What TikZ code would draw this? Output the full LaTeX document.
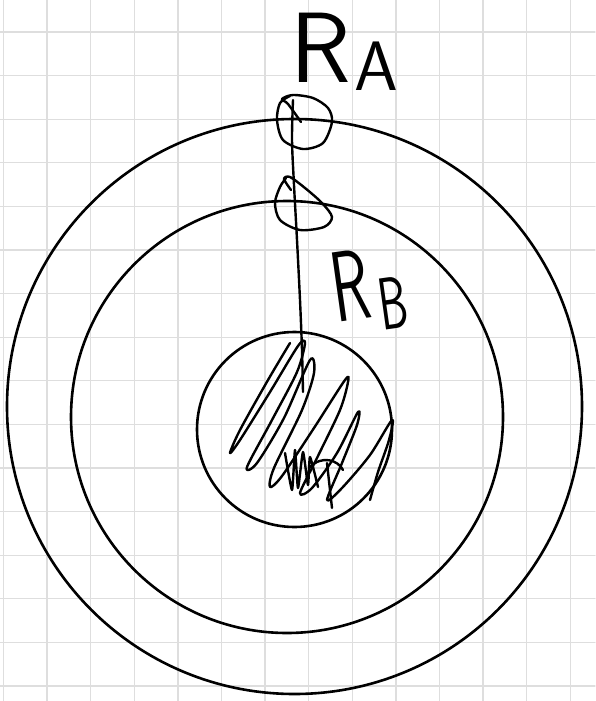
\documentclass[tikz,border=0pt]{standalone}
\usepackage{tikz}
\usetikzlibrary{positioning}
\definecolor{gridgray}{RGB}{222,222,222}
\definecolor{ink}{RGB}{0,0,0}

\begin{document}
\begin{tikzpicture}[x=1pt,y=-1pt, line cap=round, line join=round]
\tikzstyle{gridline}=[draw=gridgray, line width=1.3pt]
\tikzstyle{pen}=[draw=ink, line width=2.6pt]
\tikzstyle{scrawl}=[draw=ink, line width=2.4pt]
\tikzstyle{hand}=[inner sep=0pt, font=\sffamily\fontsize{100}{100}\selectfont, text=ink]
\useasboundingbox (0,0) rectangle (595,701);
\fill[white] (0,0) rectangle (595,701);
\foreach \i in {0,...,13} \draw[gridline] ({3.5+43.6*\i},0) -- ({3.5+43.6*\i},701);
\foreach \j in {0,...,15} \draw[gridline] (0,{32+43.6*\j}) -- (595,{32+43.6*\j});
\draw[pen] (294.5,406.5) circle[radius=287.5pt];
\draw[pen] (287,417) circle[radius=216pt];
\draw[pen] (294.5,429.5) circle[radius=97.5pt];
\draw[scrawl] plot[smooth] coordinates {(293,100) (292,140) (294,185) (297,240) (300,300) (302,350) (303,392)};
\draw[scrawl] plot[smooth] coordinates {(301,122) (288,104) (282,99) (293,95) (313,98) (328,108) (332,122) (323,143) (303,149) (283,140) (277,120) (280,103) (290,96)};
\draw[scrawl] plot[smooth] coordinates {(291,190) (284,179) (290,177) (305,188) (322,203) (332,217) (324,227) (300,230) (280,220) (275,203) (280,187) (286,178)};
\draw[scrawl] plot[smooth, tension=0.5] coordinates {(290,343) (268,380) (240,430) (230,453) (240,440) (270,392) (298,346) (305,343) (297,372) (272,420) (247,467) (257,463) (284,418) (310,360) (314,373) (302,410) (274,468) (270,487) (282,476) (314,428) (345,380) (348,382) (340,410) (317,458) (300,493) (312,488) (337,453) (358,412) (357,425) (342,463) (327,500) (342,488) (370,455) (392,420) (389,440) (378,472) (370,500)};
\draw[scrawl] plot[smooth, tension=0.3] coordinates {(285,453) (292,490) (295,450) (298,488) (303,452) (308,485) (310,457) (318,487)};
\draw[scrawl] (310,467) .. controls (322,455) and (338,460) .. (343,470);
\draw[scrawl] (327,463) -- (332,508);
\node[hand, anchor=base west] (ra) at (290,82) {R\hspace{4pt}\raisebox{-8pt}{\fontsize{70}{70}\selectfont A}};
\node[hand, anchor=base west, rotate=8, xscale=0.62] (rb) at (336,323) {R\hspace{11pt}\raisebox{-14pt}{\fontsize{74}{74}\selectfont B}};
\end{tikzpicture}
\end{document}
